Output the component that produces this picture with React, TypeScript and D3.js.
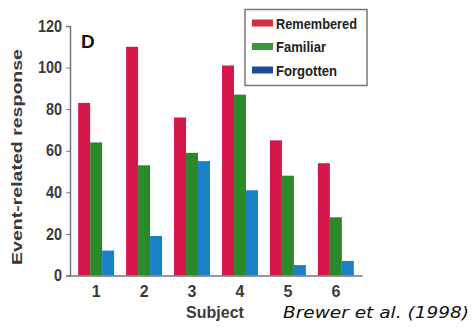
import * as d3 from "d3";
import { useEffect, useRef } from "react";

const subjects = ["1", "2", "3", "4", "5", "6"];
const seriesNames = ["Remembered", "Familiar", "Forgotten"];
const remembered = [83, 110, 76, 101, 65, 54];
const familiar = [64, 53, 59, 87, 48, 28];
const forgotten = [12, 19, 55, 41, 5, 7];
const yTicks = [0, 20, 40, 60, 80, 100, 120];

const barColors = ["#d4184c", "#2a8a2a", "#1a80c8"];
const legendColors = ["#d23040", "#3a9a3a", "#1a4c9a"];
const legendTextWidths = [81, 50, 61];

export default function App() {
  const ref = useRef<SVGSVGElement>(null);
  const width = 472,
    height = 331;

  useEffect(() => {
    const svg = d3.select(ref.current);
    svg.selectAll("*").remove();

    const font = "'Liberation Sans', Arial, sans-serif";
    const series = [remembered, familiar, forgotten];

    const x = d3
      .scaleBand()
      .domain(subjects)
      .range([70, 362])
      .paddingInner(0.25)
      .paddingOuter(0.17);
    const xs = d3.scaleBand().domain(seriesNames).range([0, x.bandwidth()]);
    const y = d3.scaleLinear().domain([0, 120]).range([275.5, 26]);

    // bars
    const groups = svg
      .append("g")
      .selectAll("g")
      .data(subjects)
      .join("g")
      .attr("transform", (d) => `translate(${x(d)},0)`);

    groups
      .selectAll("rect")
      .data((d, i) => series.map((s, k) => ({ name: seriesNames[k], v: s[i], k })))
      .join("rect")
      .attr("x", (d) => xs(d.name)!)
      .attr("width", xs.bandwidth())
      .attr("y", (d) => y(d.v))
      .attr("height", (d) => y(0) - y(d.v))
      .attr("fill", (d) => barColors[d.k]);

    // y axis
    const yAxis = svg
      .append("g")
      .attr("transform", "translate(70,0)")
      .call(d3.axisLeft(y).tickValues(yTicks).tickSize(4).tickPadding(4));
    yAxis.select(".domain").attr("stroke", "#777").attr("stroke-width", 1.5);
    yAxis.selectAll(".tick line").attr("stroke", "#777");
    yAxis
      .selectAll("text")
      .attr("font-family", font)
      .attr("font-size", 16)
      .attr("font-weight", "bold")
      .attr("fill", "#3a3a3a")
      .attr("transform", "scale(0.9,1)")
      .attr("x", -8 / 0.9);

    // x axis
    const xAxis = svg
      .append("g")
      .attr("transform", `translate(0,${y(0)})`)
      .call(d3.axisBottom(x).tickSize(0).tickPadding(10));
    xAxis.select(".domain").attr("stroke", "#777").attr("stroke-width", 1.5);
    xAxis
      .selectAll("text")
      .attr("font-family", font)
      .attr("font-size", 16)
      .attr("font-weight", "bold")
      .attr("fill", "#3a3a3a");

    svg
      .append("text")
      .attr("x", 215)
      .attr("y", 318)
      .attr("text-anchor", "middle")
      .attr("font-family", font)
      .attr("font-size", 16)
      .attr("font-weight", "bold")
      .attr("fill", "#3a3a3a")
      .text("Subject");

    svg
      .append("text")
      .attr("transform", "translate(22,157) rotate(-90)")
      .attr("text-anchor", "middle")
      .attr("font-family", font)
      .attr("font-size", 15)
      .attr("font-weight", "bold")
      .attr("fill", "#3a3a3a")
      .attr("textLength", 216)
      .attr("lengthAdjust", "spacingAndGlyphs")
      .text("Event-related response");

    svg
      .append("text")
      .attr("x", 81)
      .attr("y", 48)
      .attr("font-family", font)
      .attr("font-size", 19)
      .attr("font-weight", "bold")
      .attr("fill", "#111")
      .text("D");

    // legend
    const legend = svg.append("g");
    legend
      .append("rect")
      .attr("x", 245)
      .attr("y", 9.5)
      .attr("width", 122)
      .attr("height", 76)
      .attr("fill", "#fff")
      .attr("stroke", "#777")
      .attr("stroke-width", 1.5);
    const items = legend
      .selectAll("g")
      .data(seriesNames)
      .join("g")
      .attr("transform", (d, i) => `translate(252,${23 + i * 23.5})`);
    items
      .append("rect")
      .attr("y", -3.5)
      .attr("width", 21)
      .attr("height", 7)
      .attr("fill", (d, i) => legendColors[i]);
    items
      .append("text")
      .attr("x", 24)
      .attr("y", 5.5)
      .attr("font-family", font)
      .attr("font-size", 15.5)
      .attr("font-weight", "bold")
      .attr("fill", "#222")
      .attr("textLength", (d, i) => legendTextWidths[i])
      .attr("lengthAdjust", "spacingAndGlyphs")
      .text((d) => d);

    svg
      .append("text")
      .attr("x", 283)
      .attr("y", 318)
      .attr("font-family", "'DejaVu Sans', sans-serif")
      .attr("font-style", "italic")
      .attr("font-size", 16)
      .attr("fill", "#111")
      .attr("textLength", 186)
      .attr("lengthAdjust", "spacingAndGlyphs")
      .text("Brewer et al. (1998)");
  }, []);

  return (
    <svg
      ref={ref}
      width={width}
      height={height}
      style={{ position: "absolute", left: 0, top: 0, background: "#fff" }}
    />
  );
}
